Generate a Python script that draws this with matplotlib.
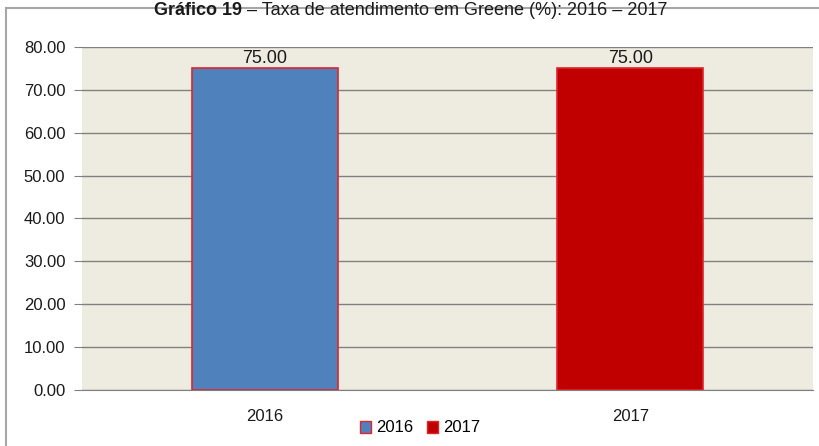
import matplotlib
matplotlib.use("Agg")

import matplotlib.pyplot as plt
from matplotlib.patches import Rectangle, Patch

# Dados
anos = ['2016', '2017']
taxa = [75.00, 75.00]
cores = ['#4F81BD', '#C00000']
yticks = [0, 10, 20, 30, 40, 50, 60, 70, 80]
titulo_negrito = 'Gráfico 19'
titulo_resto = ' – Taxa de atendimento em Greene (%): 2016 – 2017'

plt.rcParams['font.family'] = ['Liberation Sans', 'DejaVu Sans']

fig = plt.figure(figsize=(8.19, 4.46), dpi=100)
fig.patch.set_facecolor('white')

# moldura externa
fig.patches.append(Rectangle((6 / 819, -0.01), 1.0, 1 - 8 / 446 + 0.01,
                             transform=fig.transFigure, fill=False,
                             edgecolor='#A6A6A6', linewidth=1.5))

ax = fig.add_axes([82 / 819, 1 - 390 / 446, 731 / 819, 343 / 446])
ax.set_facecolor('#EEECE1')

x = range(len(anos))
bars = ax.bar(x, taxa, width=0.4, color=cores, edgecolor='#E0242B',
              linewidth=1.2, zorder=3)
for b, v in zip(bars, taxa):
    ax.text(b.get_x() + b.get_width() / 2, v + 0.4, f'{v:.2f}',
            ha='center', va='bottom', fontsize=13, color='#1a1a1a')

ax.set_xlim(-0.5, 1.5)
ax.set_ylim(0, 80)
ax.set_yticks(yticks)
ax.set_yticklabels([f'{v:.2f}' for v in yticks], fontsize=12, color='#1a1a1a')
ax.set_xticks(list(x))
ax.set_xticklabels(anos, fontsize=12, color='#1a1a1a')
ax.tick_params(axis='y', length=6, color='#808080', pad=6)
ax.tick_params(axis='x', length=0, pad=14)
ax.grid(axis='y', color='#808080', linewidth=1, zorder=1)
for s in ['top', 'right', 'left']:
    ax.spines[s].set_visible(False)
ax.spines['bottom'].set_color('#808080')

handles = [Patch(facecolor=c, edgecolor='#E0242B', linewidth=1) for c in cores]
fig.legend(handles, anos, loc='center', bbox_to_anchor=(420 / 819, 1 - 428 / 446),
           ncol=2, frameon=False, fontsize=12, handlelength=0.7, handleheight=0.7,
           handletextpad=0.3, columnspacing=0.8)

# titulo: parte em negrito + resto, centrado
yt = 1 - 15 / 446
t1 = fig.text(0, yt, titulo_negrito, ha='left', va='baseline', fontsize=13,
              fontweight='bold', color='#1a1a1a')
t2 = fig.text(0, yt, titulo_resto, ha='left', va='baseline', fontsize=13,
              color='#1a1a1a')
r = fig.canvas.get_renderer()
w1 = t1.get_window_extent(r).width
w2 = t2.get_window_extent(r).width
x0 = 411 - (w1 + w2) / 2
t1.set_x(x0 / 819)
t2.set_x((x0 + w1) / 819)

fig.savefig('out.png', dpi=100)
